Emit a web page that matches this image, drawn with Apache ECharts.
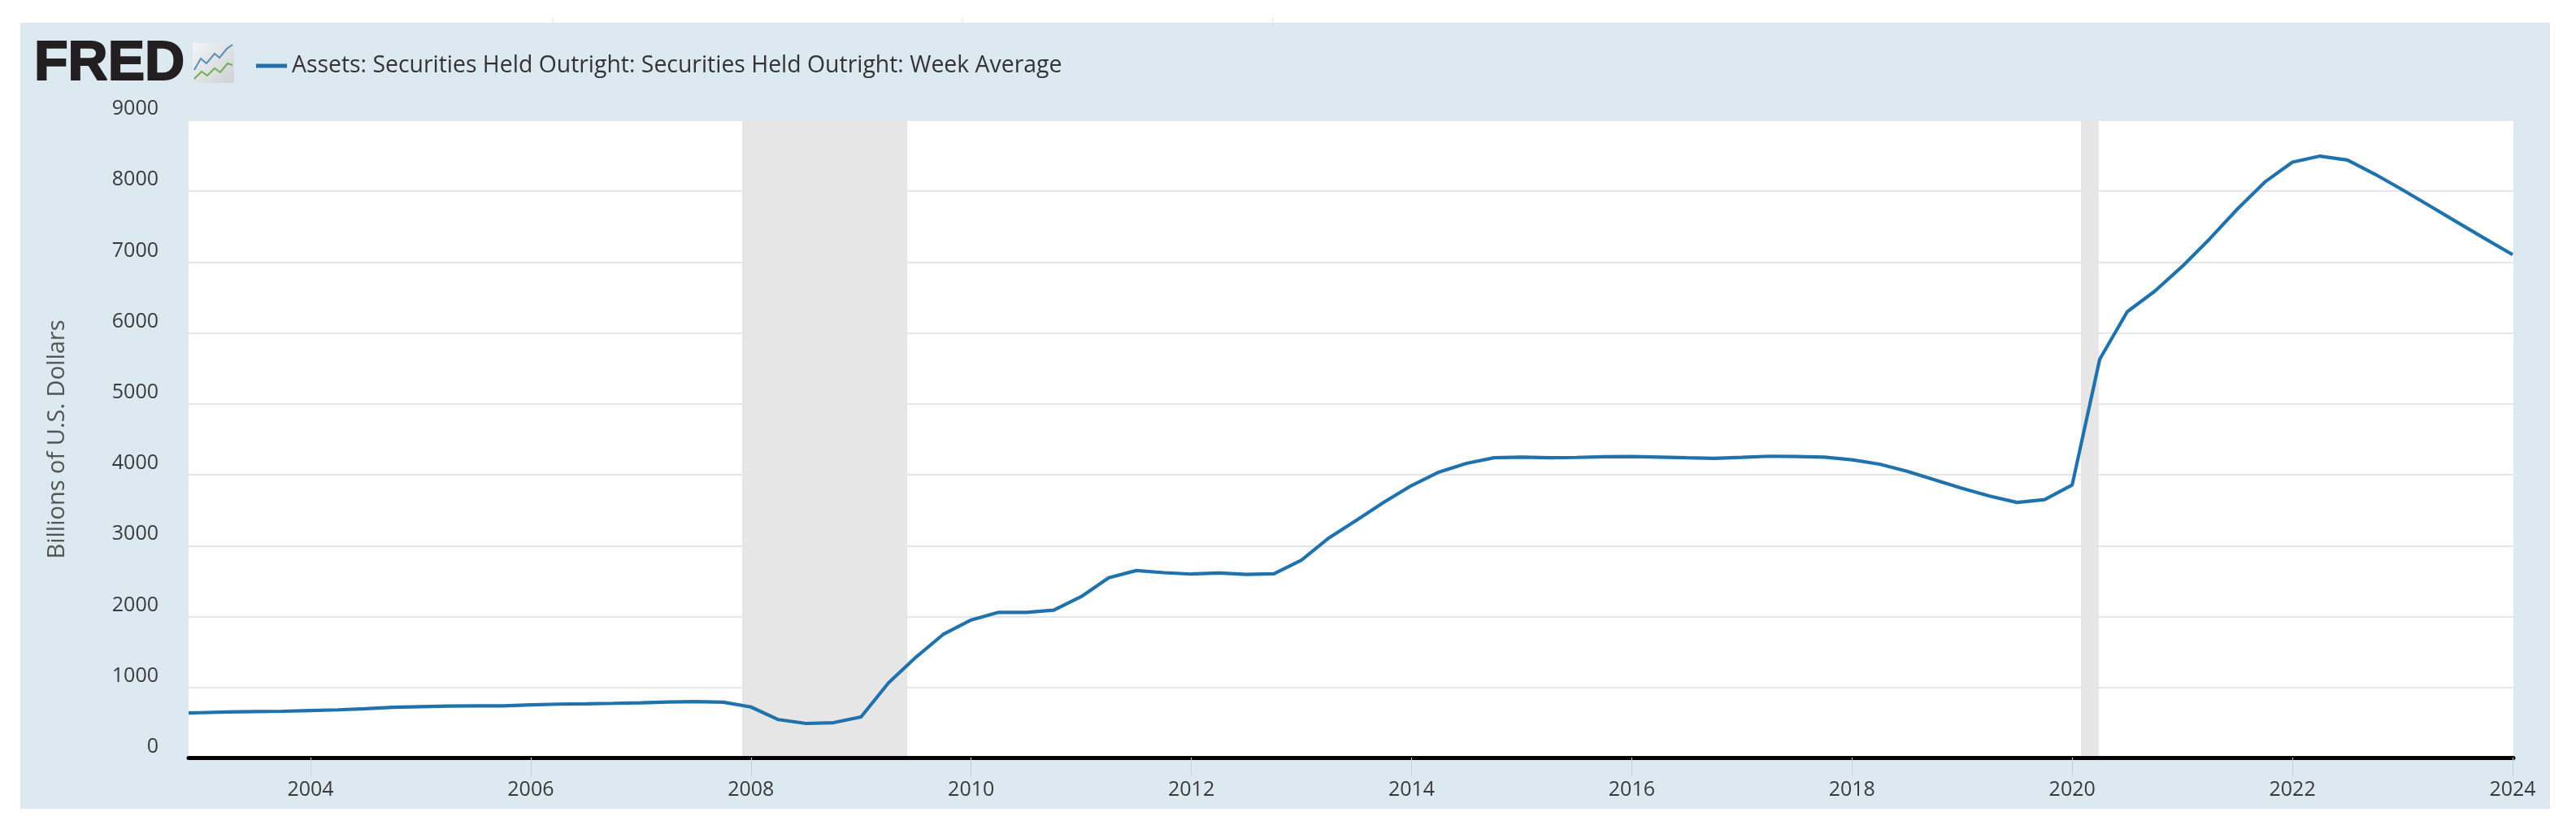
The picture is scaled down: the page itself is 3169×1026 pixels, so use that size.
<!DOCTYPE html>
<html><head><meta charset="utf-8">
<style>html,body{margin:0;padding:0;background:#fff}#c{width:3169px;height:1026px}</style>
<script src="https://cdn.jsdelivr.net/npm/echarts@6/dist/echarts.min.js"></script>
</head><body><div id="c"></div>
<script>
const seriesName = 'Assets: Securities Held Outright: Securities Held Outright: Week Average';
const yAxisTitle = 'Billions of U.S. Dollars';
const years = [2002.8926,
 2003,2003.25,2003.5,2003.75,2004,2004.25,2004.5,2004.75,2005,2005.25,2005.5,2005.75,
 2006,2006.25,2006.5,2006.75,2007,2007.25,2007.5,2007.75,2008,2008.25,2008.5,2008.75,
 2009,2009.25,2009.5,2009.75,2010,2010.25,2010.5,2010.75,2011,2011.25,2011.5,2011.75,
 2012,2012.25,2012.5,2012.75,2013,2013.25,2013.5,2013.75,2014,2014.25,2014.5,2014.75,
 2015,2015.25,2015.5,2015.75,2016,2016.25,2016.5,2016.75,2017,2017.25,2017.5,2017.75,
 2018,2018.25,2018.5,2018.75,2019,2019.25,2019.5,2019.75,2020,2020.25,2020.5,2020.75,
 2021,2021.25,2021.5,2021.75,2022,2022.25,2022.5,2022.75,2023,2023.25,2023.5,2023.75,2024];
const values = [640,
 645,655,660,665,675,685,700,720,730,737,740,740,
 755,765,770,777,785,795,800,792,725,547,493,504,
 585,1066,1430,1754,1953,2060,2060,2090,2282,2549,2650,2620,
 2600,2615,2595,2605,2797,3111,3359,3615,3849,4039,4162,4240,
 4250,4240,4245,4255,4258,4250,4240,4232,4246,4262,4258,4250,
 4212,4150,4050,3930,3810,3700,3610,3650,3856,5630,6300,6590,
 6940,7330,7747,8130,8410,8495,8440,8240,8020,7790,7560,7330,7105];
const recessions = [[2007.92,2009.42],[2020.08,2020.24]];
const xTicks = [2004,2006,2008,2010,2012,2014,2016,2018,2020,2022,2024];
const xMin = 2002.8926, xMax = 2024.0074;

const font = '"Open Sans"';
const textColor = '#3a3a3a';
const chart = echarts.init(document.getElementById('c'), null, {renderer:'canvas'});
chart.setOption({
  animation:false,
  backgroundColor:'#ffffff',
  grid:{left:232, top:148, width:2860, height:785, show:true, backgroundColor:'#ffffff', borderWidth:0},
  legend:{
    show:true, left:310, top:62, icon:'rect', itemWidth:38, itemHeight:5,
    data:[seriesName], selectedMode:false,
    textStyle:{fontFamily:font, fontSize:28.4, color:'#333', padding:[0,0,0,1]}
  },
  xAxis:{
    type:'value', min:xMin, max:xMax, z:5, offset:-1,
    axisLine:{show:true, onZero:false, lineStyle:{color:'#000', width:5}},
    axisTick:{show:true, length:23, customValues:xTicks, lineStyle:{color:'#c0d0e0', width:1}},
    axisLabel:{show:true, customValues:xTicks, margin:27, fontFamily:font, fontSize:25, color:textColor, formatter:v=>String(Math.round(v)), hideOverlap:false, showMinLabel:true, showMaxLabel:true},
    splitLine:{show:false}
  },
  yAxis:{
    type:'value', min:0, max:9000, interval:1000,
    name:yAxisTitle, nameLocation:'middle', nameGap:147, nameRotate:90,
    nameTextStyle:{fontFamily:font, fontSize:29, color:'#555'},
    axisLine:{show:false}, axisTick:{show:false},
    axisLabel:{margin:37, fontFamily:font, fontSize:25, color:textColor, verticalAlign:'bottom', lineHeight:28, formatter:v=>String(v)},
    splitLine:{show:true, lineStyle:{color:'#e6e6e6', width:2}}
  },
  series:[{
    name:seriesName, type:'line', showSymbol:false, smooth:false, clip:true,
    data:years.map((y,i)=>[y,values[i]]),
    lineStyle:{color:'#1f72ab', width:4.2}, itemStyle:{color:'#1f72ab'},
    markArea:{silent:true, itemStyle:{color:'#e6e6e6'},
      data:recessions.map(r=>[{xAxis:r[0]},{xAxis:r[1]}])}
  }],
  graphic:[
    {type:'rect', z:-10, silent:true, shape:{x:25,y:28,width:3112,height:967}, style:{fill:'#dde9f1'}},
    {type:'line', z:-9, silent:true, shape:{x1:680,y1:22,x2:680,y2:32}, style:{stroke:'#dddddd',lineWidth:1}},
    {type:'line', z:-9, silent:true, shape:{x1:1184,y1:22,x2:1184,y2:32}, style:{stroke:'#dddddd',lineWidth:1}},
    {type:'line', z:-9, silent:true, shape:{x1:1566,y1:22,x2:1566,y2:32}, style:{stroke:'#dddddd',lineWidth:1}},
    {type:'text', z:10, silent:true, left:41, top:44, style:{text:'FRED', font:'bold 68px "Liberation Sans"', fill:'#231f20', stroke:'#231f20', lineWidth:2}},
    {type:'rect', z:10, silent:true, shape:{x:237,y:53,width:51,height:49}, style:{fill:{type:'linear',x:0,y:0,x2:1,y2:1,colorStops:[{offset:0,color:'#f2f4f5'},{offset:1,color:'#cfd2d4'}]}}},
    {type:'polyline', z:11, silent:true, shape:{points:[[239,86],[247,72],[254,78],[264,66],[270,71],[279,60],[286,55]]}, style:{stroke:'#5a8fb8',lineWidth:2,fill:null}},
    {type:'polyline', z:11, silent:true, shape:{points:[[239,97],[248,88],[255,93],[264,84],[271,89],[280,78],[286,80]]}, style:{stroke:'#6fae55',lineWidth:2,fill:null}}
  ]
});
</script></body></html>
